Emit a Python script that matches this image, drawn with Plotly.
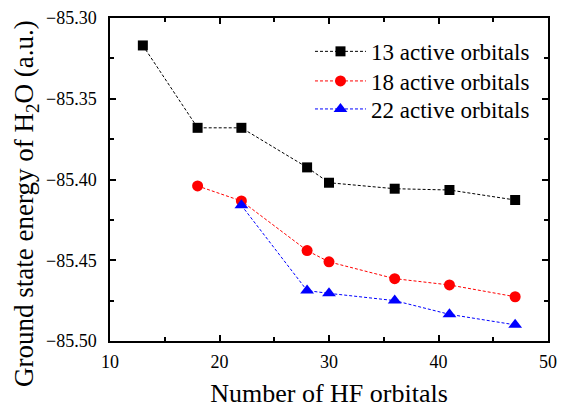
import plotly.graph_objects as go

x13 = [13, 18, 22, 28, 30, 36, 41, 47]
y13 = [-85.317, -85.368, -85.368, -85.3925, -85.402, -85.4057, -85.4065, -85.4127]
x18 = [18, 22, 28, 30, 36, 41, 47]
y18 = [-85.404, -85.4133, -85.444, -85.451, -85.4614, -85.4653, -85.4726]
x22 = [22, 28, 30, 36, 41, 47]
y22 = [-85.416, -85.4688, -85.4705, -85.475, -85.4835, -85.490]

names = ["13 active orbitals", "18 active orbitals", "22 active orbitals"]
colors = ["black", "red", "blue"]
symbols = ["square", "circle", "triangle-up"]
sizes = [10, 11, 12]
legend_ids = ["legend", "legend2", "legend3"]
legend_y = [0.8966, 0.805, 0.7183]

FONT = "Liberation Serif, Times New Roman, serif"

fig = go.Figure()
for xs, ys, nm, c, s, sz, lg in zip([x13, x18, x22], [y13, y18, y22], names, colors, symbols, sizes, legend_ids):
    fig.add_trace(go.Scatter(
        x=xs, y=ys, name=nm, mode="lines+markers", legend=lg, showlegend=True,
        line=dict(color=c, width=1, dash="3px,2px"),
        marker=dict(symbol=s, size=sz, color=c, line=dict(width=0)),
    ))

axis_common = dict(
    showline=True, linecolor="black", linewidth=1.5, mirror="allticks",
    ticks="inside", ticklen=6, tickwidth=1.5, tickcolor="black",
    showgrid=False, zeroline=False, automargin=False,
    tickfont=dict(family=FONT, size=18, color="black"),
)

fig.update_xaxes(
    range=[10, 50], dtick=10, tick0=10,
    minor=dict(dtick=5, ticks="inside", ticklen=4, tickwidth=1.5, tickcolor="black"),
    title=dict(text="Number of HF orbitals", font=dict(family=FONT, size=26, color="black"), standoff=20),
    ticklabelstandoff=4,
    **axis_common,
)
fig.update_yaxes(
    range=[-85.50, -85.30], dtick=0.05, tick0=-85.50, tickformat=".2f",
    minor=dict(dtick=0.025, ticks="inside", ticklen=4, tickwidth=1.5, tickcolor="black"),
    ticklabelstandoff=8,
    **axis_common,
)

leg_common = dict(
    x=0.4566, xanchor="left", yanchor="middle",
    font=dict(family=FONT, size=23, color="black"),
    bgcolor="rgba(0,0,0,0)", borderwidth=0, itemwidth=51,
)

fig.update_layout(
    width=565, height=408,
    showlegend=True,
    margin=dict(l=110, r=17, t=18, b=67),
    plot_bgcolor="white", paper_bgcolor="white",
    font=dict(family=FONT, color="black"),
    legend=dict(y=legend_y[0], **leg_common),
    legend2=dict(y=legend_y[1], **leg_common),
    legend3=dict(y=legend_y[2], **leg_common),
    annotations=[dict(
        text="Ground state energy of H<sub>2</sub>O (a.u.)",
        xref="paper", yref="paper", x=-0.192, y=0.4272,
        xanchor="center", yanchor="middle", textangle=-90, showarrow=False,
        font=dict(family=FONT, size=27, color="black"),
    )],
)

fig.write_html("out.html")
